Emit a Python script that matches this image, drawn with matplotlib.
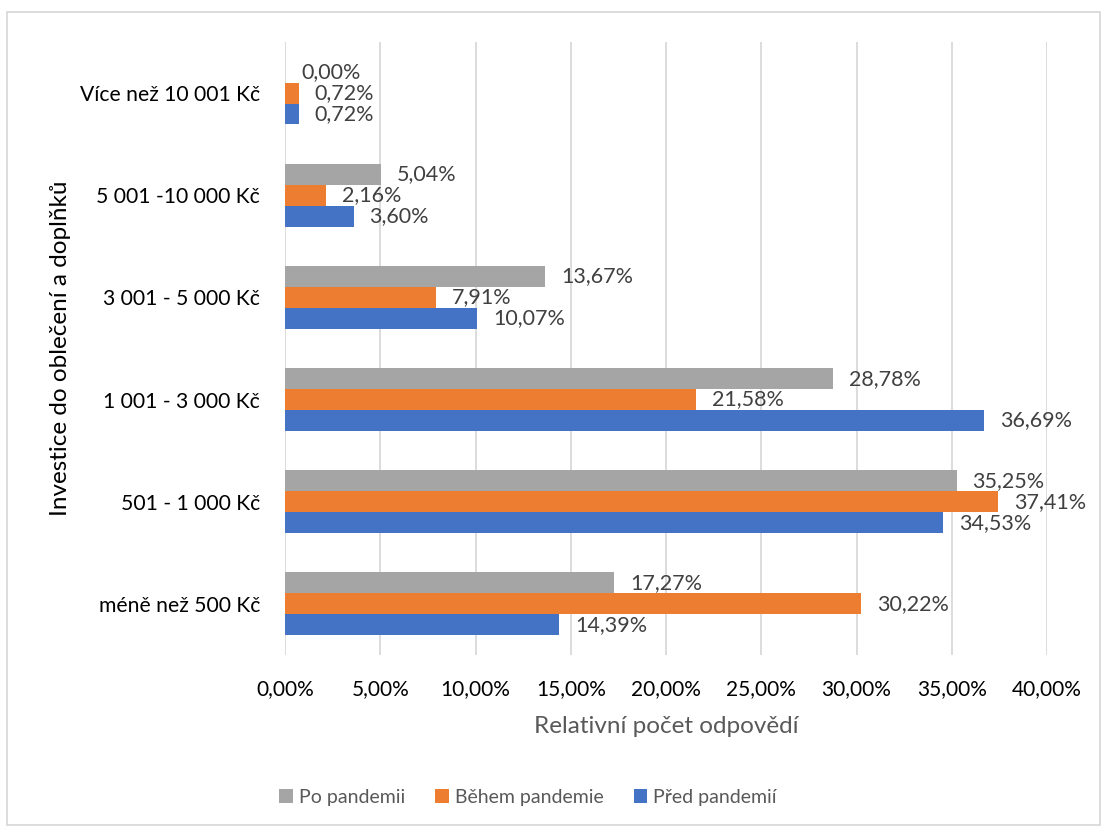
import numpy as np
import matplotlib.pyplot as plt
from matplotlib.patches import Rectangle

plt.rcParams['font.family'] = ['Lato', 'DejaVu Sans']

# ----------------------------
# Data (percent of answers)
# ----------------------------
categories = ["méně než 500 Kč", "501 - 1 000 Kč", "1 001 - 3 000 Kč",
              "3 001 - 5 000 Kč", "5 001 -10 000 Kč", "Více než 10 001 Kč"]
pred = [14.39, 34.53, 36.69, 10.07, 3.60, 0.72]     # Před pandemií
behem = [30.22, 37.41, 21.58, 7.91, 2.16, 0.72]    # Během pandemie
po = [17.27, 35.25, 28.78, 13.67, 5.04, 0.00]      # Po pandemii
xticks = [0, 5, 10, 15, 20, 25, 30, 35, 40]

c_pred, c_behem, c_po = "#4472C4", "#ED7D31", "#A5A5A5"

fig = plt.figure(figsize=(11.06, 8.31), dpi=100)
ax = fig.add_axes([0.2577, 0.2118, 0.689, 0.7377])

y = np.arange(len(categories))
h = 0.205

series = [(pred, c_pred, -h, "Před pandemií"),
          (behem, c_behem, 0.0, "Během pandemie"),
          (po, c_po, h, "Po pandemii")]
handles = {}
for vals, col, off, name in series:
    bars = ax.barh(y + off, vals, height=h, color=col, zorder=2)
    handles[name] = bars
    for yy, v in zip(y + off, vals):
        ax.annotate(f"{v:.2f}%".replace(".", ","), (v, yy),
                    xytext=(11.5, 0), textcoords="offset points",
                    va="center", ha="left", fontsize=15.5, color="#404040")

ax.set_ylim(-0.5, len(categories) - 0.5)
ax.set_xlim(0, 40)
ax.set_xticks(xticks)
ax.set_xticklabels([f"{t:.2f}%".replace(".", ",") for t in xticks])
ax.set_yticks(y)
ax.set_yticklabels(categories)
ax.tick_params(axis="both", length=0, colors="#000000")
ax.tick_params(axis="x", pad=17.5, labelsize=15)
ax.tick_params(axis="y", pad=18, labelsize=15.2)
ax.grid(axis="x", color="#D9D9D9", linewidth=1.3, zorder=0)
ax.set_axisbelow(True)
for s in ax.spines.values():
    s.set_visible(False)

ax.set_xlabel("Relativní počet odpovědí", fontsize=17.5, color="#595959", labelpad=12)
fig.text(61 / 1106, 1 - 348 / 831, "Investice do oblečení a doplňků",
         rotation=90, ha="center", va="center", fontsize=17.5, color="#000000")

order = ["Po pandemii", "Během pandemie", "Před pandemií"]
leg = fig.legend([handles[n] for n in order], order, loc="center",
                 bbox_to_anchor=(528 / 1106, 1 - 797 / 831), ncol=3,
                 frameon=False, fontsize=14, handlelength=0.7, handleheight=0.7,
                 handletextpad=0.3, columnspacing=1.55)
for t in leg.get_texts():
    t.set_color("#595959")

# outer chart border
fig.patches.append(Rectangle((7 / 1106, 1 - 825 / 831), 1093 / 1106, 813 / 831,
                             transform=fig.transFigure, fill=False,
                             edgecolor="#D9D9D9", linewidth=1.3))

fig.savefig("out.png", dpi=100)
